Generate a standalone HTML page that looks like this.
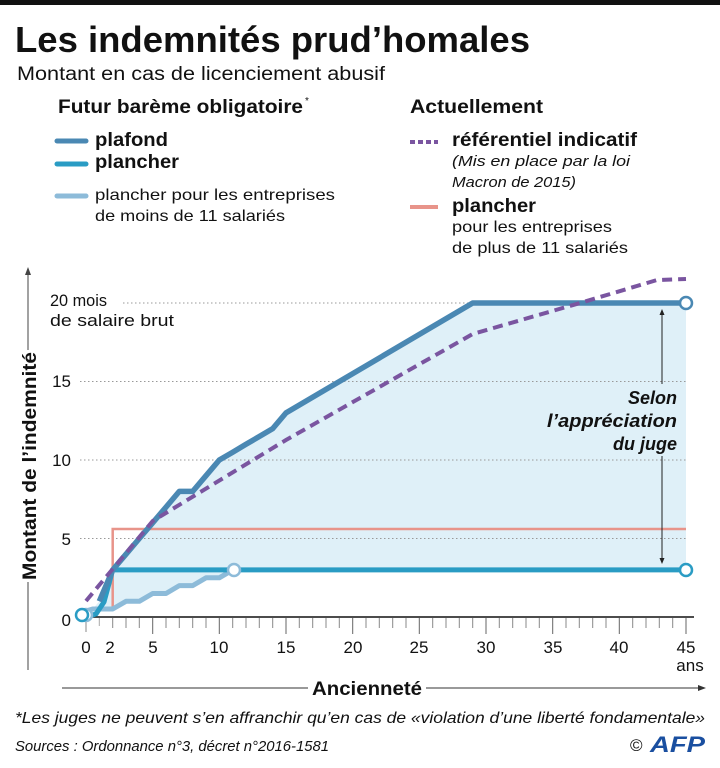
<!DOCTYPE html>
<html><head><meta charset="utf-8"><style>
html,body{margin:0;padding:0;background:#fff}
svg{display:block}
text{font-family:"Liberation Sans",sans-serif;fill:#111}
</style></head><body>
<svg width="720" height="768" viewBox="0 0 720 768" xmlns="http://www.w3.org/2000/svg">
<rect x="0" y="0" width="720" height="5" fill="#111"/>
<text x="15" y="52" font-size="36" font-weight="bold" textLength="515" lengthAdjust="spacingAndGlyphs">Les indemnités prud’homales</text>
<text x="17" y="80" font-size="19" textLength="368" lengthAdjust="spacingAndGlyphs">Montant en cas de licenciement abusif</text>
<text x="58" y="113" font-size="19" font-weight="bold" textLength="245" lengthAdjust="spacingAndGlyphs">Futur barème obligatoire</text>
<text x="305" y="104" font-size="10">*</text>
<line x1="57" y1="141" x2="86" y2="141" stroke="#4a88b3" stroke-width="5" stroke-linecap="round"/>
<text x="95" y="146" font-size="19" font-weight="bold" textLength="73" lengthAdjust="spacingAndGlyphs">plafond</text>
<line x1="57" y1="164" x2="86" y2="164" stroke="#2a9cc4" stroke-width="5" stroke-linecap="round"/>
<text x="95" y="168" font-size="19" font-weight="bold" textLength="84" lengthAdjust="spacingAndGlyphs">plancher</text>
<line x1="57" y1="196" x2="86" y2="196" stroke="#8dbbd9" stroke-width="5" stroke-linecap="round"/>
<text x="95" y="200" font-size="16" textLength="240" lengthAdjust="spacingAndGlyphs">plancher pour les entreprises</text>
<text x="95" y="221" font-size="16" textLength="190" lengthAdjust="spacingAndGlyphs">de moins de 11 salariés</text>
<text x="410" y="113" font-size="19" font-weight="bold" textLength="133" lengthAdjust="spacingAndGlyphs">Actuellement</text>
<line x1="410" y1="142" x2="438" y2="142" stroke="#7a55a0" stroke-width="4" stroke-dasharray="5,3"/>
<text x="452" y="146" font-size="19" font-weight="bold" textLength="185" lengthAdjust="spacingAndGlyphs">référentiel indicatif</text>
<text x="452" y="166" font-size="15" font-style="italic" textLength="178" lengthAdjust="spacingAndGlyphs">(Mis en place par la loi</text>
<text x="452" y="187" font-size="15" font-style="italic" textLength="124" lengthAdjust="spacingAndGlyphs">Macron de 2015)</text>
<line x1="410" y1="207" x2="438" y2="207" stroke="#e8948a" stroke-width="4"/>
<text x="452" y="212" font-size="19" font-weight="bold" textLength="84" lengthAdjust="spacingAndGlyphs">plancher</text>
<text x="452" y="232" font-size="16" textLength="160" lengthAdjust="spacingAndGlyphs">pour les entreprises</text>
<text x="452" y="253" font-size="16" textLength="176" lengthAdjust="spacingAndGlyphs">de plus de 11 salariés</text>

<!-- fill -->
<polygon fill="#dff0f8" points="86,617 99.3,601.3 112.7,569.9 126,554.2 139.3,538.5 152.7,522.8 166,507.1 179.3,491.4 192.7,491.4 206,475.7 219.3,460 232.7,452.2 246,444.3 259.3,436.5 272.7,428.6 286,412.9 472.7,303 686,303 686,570 232.7,570 219.3,577.8 206,577.8 192.7,585.6 179.3,585.6 166,593.5 152.7,593.5 139.3,601.3 126,601.3 112.7,609 92.7,609"/>
<!-- grid -->
<g stroke="#999" stroke-width="1" stroke-dasharray="1.5,2.5">
<line x1="123" y1="303" x2="686" y2="303"/>
<line x1="80" y1="381.5" x2="686" y2="381.5"/>
<line x1="80" y1="460" x2="686" y2="460"/>
<line x1="80" y1="538.5" x2="686" y2="538.5"/>
</g>
<!-- y labels -->
<text x="50" y="306" font-size="17" textLength="57" lengthAdjust="spacingAndGlyphs">20 mois</text>
<text x="50" y="326" font-size="17" textLength="124" lengthAdjust="spacingAndGlyphs">de salaire brut</text>
<text x="71" y="387" font-size="17" text-anchor="end">15</text>
<text x="71" y="466" font-size="17" text-anchor="end">10</text>
<text x="71" y="545" font-size="17" text-anchor="end">5</text>
<text x="71" y="626" font-size="17" text-anchor="end">0</text>
<!-- y axis arrow -->
<line x1="28" y1="670" x2="28" y2="272" stroke="#444" stroke-width="1"/>
<polygon points="28,267 25,275 31,275" fill="#444"/>
<rect x="18" y="350" width="22" height="232" fill="#fff"/>
<text transform="translate(36,466) rotate(-90)" font-size="19" font-weight="bold" text-anchor="middle" textLength="228" lengthAdjust="spacingAndGlyphs">Montant de l’indemnité</text>
<!-- x axis -->
<line x1="86" y1="617" x2="694" y2="617" stroke="#111" stroke-width="1.5"/>
<g stroke="#888" stroke-width="1">
<path d="M86,618v14M112.7,618v10M126,618v10M139.3,618v10M166,618v10M179.3,618v10M192.7,618v10M206,618v10M232.7,618v10M246,618v10M259.3,618v10M272.7,618v10M299.3,618v10M312.7,618v10M326,618v10M339.3,618v10M366,618v10M379.3,618v10M392.7,618v10M406,618v10M432.7,618v10M446,618v10M459.3,618v10M472.7,618v10M499.3,618v10M512.7,618v10M526,618v10M539.3,618v10M566,618v10M579.3,618v10M592.7,618v10M606,618v10M632.7,618v10M646,618v10M659.3,618v10M672.7,618v10"/>
<path d="M99.3,618v8" stroke="#aaa"/>
<path d="M152.7,618v16M219.3,618v16M286,618v16M352.7,618v16M419.3,618v16M486,618v16M552.7,618v16M619.3,618v16M686,618v16" stroke="#666"/>
</g>
<g font-size="17" text-anchor="middle">
<text x="86" y="653">0</text><text x="110" y="653">2</text><text x="153" y="653">5</text><text x="219" y="653">10</text><text x="286" y="653">15</text><text x="353" y="653">20</text><text x="419" y="653">25</text><text x="486" y="653">30</text><text x="553" y="653">35</text><text x="619" y="653">40</text><text x="686" y="653">45</text>
<text x="690" y="671">ans</text>
</g>
<line x1="62" y1="688" x2="700" y2="688" stroke="#333" stroke-width="1"/>
<polygon points="706,688 698,685 698,691" fill="#333"/>
<rect x="308" y="676" width="118" height="22" fill="#fff"/>
<text x="312" y="695" font-size="19" font-weight="bold" textLength="110" lengthAdjust="spacingAndGlyphs">Ancienneté</text>
<!-- red -->
<polyline fill="none" stroke="#e8948a" stroke-width="2.5" points="112.7,611 112.7,529 686,529"/>
<!-- small firms -->
<polyline fill="none" stroke="#8dbbd9" stroke-width="5" stroke-linejoin="round" points="86,611 92.7,609 112.7,609 126,601.3 139.3,601.3 152.7,593.5 166,593.5 179.3,585.6 192.7,585.6 206,577.8 219.3,577.8 232.7,570"/>
<!-- plancher -->
<polyline fill="none" stroke="#2a9cc4" stroke-width="5" stroke-linejoin="round" points="86,617 96,614 104,602 112.7,569.9 686,569.9"/>
<!-- plafond -->
<polyline fill="none" stroke="#4a88b3" stroke-width="5.5" stroke-linejoin="round" points="99.3,601.3 112.7,569.9 126,554.2 139.3,538.5 152.7,522.8 166,507.1 179.3,491.4 192.7,491.4 206,475.7 219.3,460 232.7,452.2 246,444.3 259.3,436.5 272.7,428.6 286,412.9 472.7,303 686,303"/>
<!-- dashed referentiel -->
<polyline fill="none" stroke="#7a55a0" stroke-width="4" stroke-dasharray="10,6" points="86,601 152.7,521 286,440 472.7,334 580,303 657,280 686,279"/>
<!-- circles -->
<g fill="#fff" stroke-width="2.5">
<circle cx="86" cy="615" r="6" stroke="#8dbbd9"/>
<circle cx="82" cy="615" r="6" stroke="#2a9cc4"/>
<circle cx="234" cy="570" r="6" stroke="#8dbbd9"/>
<circle cx="686" cy="303" r="6" stroke="#4a88b3"/>
<circle cx="686" cy="570" r="6" stroke="#2a9cc4"/>
</g>
<!-- double arrow -->
<line x1="662" y1="313" x2="662" y2="560" stroke="#222" stroke-width="1"/>
<polygon points="662,309 659.5,315 664.5,315" fill="#222"/>
<polygon points="662,564 659.5,558 664.5,558" fill="#222"/>
<rect x="612" y="384" width="70" height="72" fill="#dff0f8"/>
<g font-size="18" font-weight="bold" font-style="italic" text-anchor="end">
<text x="677" y="404">Selon</text>
<text x="677" y="427" textLength="130" lengthAdjust="spacingAndGlyphs">l’appréciation</text>
<text x="677" y="450">du juge</text>
</g>
<!-- footer -->
<text x="15" y="723" font-size="16" font-style="italic" textLength="690" lengthAdjust="spacingAndGlyphs">*Les juges ne peuvent s’en affranchir qu’en cas de «violation d’une liberté fondamentale»</text>
<text x="15" y="751" font-size="15" font-style="italic" textLength="314" lengthAdjust="spacingAndGlyphs">Sources : Ordonnance n°3, décret n°2016-1581</text>
<text x="630" y="751" font-size="17">©</text>
<text x="650" y="752" font-size="22" font-weight="bold" font-style="italic" fill="#1a4fa0" style="fill:#1a4fa0" textLength="55" lengthAdjust="spacingAndGlyphs">AFP</text>
</svg>
</body></html>
